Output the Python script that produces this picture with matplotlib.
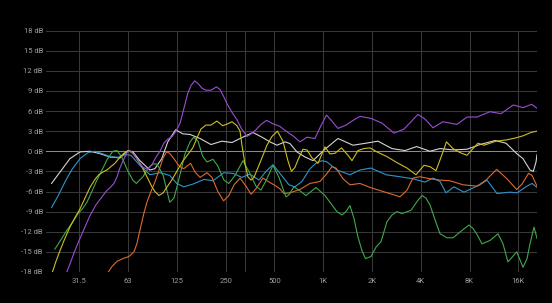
import matplotlib
matplotlib.use("Agg")
import matplotlib.pyplot as plt
from matplotlib.ticker import FixedLocator, NullLocator

# ---- data (frequency in Hz, level in dB) ----
WHITE = [(21.1,-4.8),(23.8,-3.1),(27.4,-1.1),(31.6,-0.1),(36.4,0.0),(41.9,-0.35),(48.3,-0.85),(55.7,-1.0),
         (62.4,0.1),(67.0,-0.1),(74.0,-1.4),(85.3,-2.8),(91.6,-2.6),(101,-1.1),(110,1.4),(123,3.2),(136,2.6),
         (151,2.5),(174,1.9),(203,1.0),(237,1.5),(274,1.3),(307,1.9),(369,2.8),(419,2.1),(470,1.4),(519,0.9),
         (581,1.4),(624,1.15),(689,-0.1),(772,-0.85),(865,-1.4),(1026,0.3),(1234,1.9),(1527,0.9),(1837,1.2),
         (2179,1.5),(2658,0.4),(3197,0.1),(3776,0.7),(4561,0.0),(5258,0.4),(6324,0.2),(7716,0.3),(9282,1.0),
         (11487,1.6),(13432,1.2),(15635,-0.35),(17101,-1.1),(18888,-2.8),(19795,-3.0),(20570,-1.6),(20864,-0.5)]

BLUE = [(21.1,-8.4),(23.1,-6.7),(25.5,-4.6),(28.2,-2.7),(31.6,-1.1),(35.4,-0.2),(39.1,0.0),(43.8,-0.4),
        (48.3,-0.8),(54.2,-0.9),(60.7,-0.5),(65.1,-0.6),(74.0,-2.1),(85.3,-3.5),(98.4,-3.2),(113,-3.6),
        (125,-4.8),(138,-5.3),(157,-4.9),(184,-4.2),(209,-4.4),(244,-3.2),(278,-3.3),(315,-3.9),(353,-3.4),
        (402,-4.3),(444,-3.0),(490,-2.0),(541,-3.3),(615,-5.0),(670,-5.3),(740,-4.5),(829,-2.6),(903,-1.8),
        (983,-1.4),(1056,-1.6),(1217,-2.8),(1463,-3.5),(1687,-2.8),(1972,-2.5),(2441,-3.5),(2978,-3.8),
        (3582,-4.1),(4248,-4.6),(4760,-4.0),(5258,-4.5),(5725,-6.2),(6415,-5.3),(7394,-6.1),(8524,-5.4),
        (9282,-5.0),(10253,-4.3),(11816,-6.3),(14214,-6.1),(15704,-6.2),(18101,-5.2),(19434,-4.8),(20864,-5.4)]

GREEN = [(22.1,-14.6),(24.1,-13.2),(26.2,-11.8),(28.6,-10.5),(30.7,-9.3),(32.9,-8.5),(34.9,-7.6),(37.4,-6.0),
         (40.2,-4.3),(43.2,-2.8),(46.3,-1.3),(50.4,0.0),(53.5,0.1),(57.3,-0.9),(62.5,-3.0),(67.0,-4.3),
         (70.4,-4.8),(77.3,-3.8),(84.1,-2.4),(89.1,-1.9),(94.3,-1.9),(103,-3.6),(109,-6.0),(113,-7.6),
         (120,-7.0),(125,-5.4),(133,-2.8),(140,-0.5),(151,1.4),(159,2.1),(169,1.5),(181,-0.8),(192,-1.6),
         (209,-1.2),(224,-2.2),(244,-4.3),(262,-4.8),(286,-3.6),(320,-1.4),(353,-3.3),(385,-5.2),(413,-5.8),
         (444,-4.4),(490,-2.1),(534,-3.9),(589,-6.8),(615,-6.5),(660,-5.3),(729,-6.0),(783,-6.6),(903,-5.4),
         (1026,-6.6),(1117,-7.8),(1217,-9.0),(1306,-9.5),(1383,-9.0),(1463,-8.1),(1549,-10.0),(1640,-12.8),
         (1735,-14.8),(1824,-16.0),(1972,-15.7),(2118,-14.3),(2273,-13.5),(2476,-10.5),(2658,-9.5),(2854,-9.0),
         (3064,-9.3),(3482,-8.8),(3791,-7.5),(4071,-6.6),(4309,-7.0),(4561,-8.0),(4897,-10.2),(5258,-12.3),
         (5809,-12.9),(6324,-12.9),(7187,-11.8),(7935,-11.0),(8402,-11.5),(8894,-12.4),(9551,-13.8),
         (10700,-13.3),(11986,-12.3),(12870,-13.8),(13810,-16.5),(15635,-15.0),(17101,-17.3),(18101,-16.0),
         (18888,-13.8),(19990,-11.3),(20864,-13.0)]

ORANGE = [(47.0,-18.1),(49.7,-17.2),(53.5,-16.4),(58.2,-16.0),(63.3,-15.7),(68.0,-15.0),(70.9,-13.8),
          (74.0,-11.8),(78.4,-9.2),(81.8,-7.6),(86.6,-6.0),(91.6,-4.6),(98.4,-2.4),(103,-1.0),(108,-0.1),
          (113,-0.3),(120,-1.1),(129,-2.2),(138,-2.6),(152,-1.8),(162,-3.1),(174,-3.9),(192,-3.2),(206,-3.9),
          (224,-6.0),(243,-7.4),(262,-6.6),(282,-5.0),(307,-4.0),(334,-5.2),(359,-6.4),(385,-5.6),(425,-4.0),
          (457,-4.5),(497,-5.0),(541,-5.6),(573,-6.3),(624,-6.2),(719,-5.7),(829,-4.8),(955,-4.5),(1041,-3.5),
          (1133,-2.3),(1200,-2.5),(1325,-4.1),(1463,-5.0),(1687,-4.8),(1947,-5.4),(2339,-6.0),(2658,-6.4),
          (2978,-6.8),(3290,-5.8),(3582,-4.0),(3957,-3.8),(4561,-4.1),(5258,-4.3),(6059,-4.4),(7290,-5.0),
          (8894,-5.2),(10107,-4.3),(11769,-2.7),(13604,-4.1),(15635,-5.7),(16858,-4.9),(18491,-3.3),
          (19434,-3.6),(20864,-5.2)]

YELLOW = [(21.3,-18.1),(22.4,-16.5),(23.8,-14.8),(25.5,-13.0),(27.4,-11.3),(29.4,-9.9),(31.6,-8.6),(33.9,-7.0),
          (36.4,-5.4),(39.1,-4.2),(41.3,-3.5),(43.8,-3.1),(46.3,-2.8),(49.0,-2.3),(51.9,-1.8),(55.7,-0.9),
          (59.0,-0.3),(63.3,0.1),(67.0,-0.3),(70.9,-1.1),(76.2,-2.3),(81.8,-3.8),(87.8,-5.3),(91.6,-6.0),
          (97.0,-6.6),(103,-6.2),(109,-5.3),(117,-4.2),(125,-3.0),(136,-1.5),(146,-0.5),(157,0.5),(166,1.9),
          (176,3.3),(189,3.9),(203,3.9),(221,4.5),(240,3.8),(258,4.1),(274,4.4),(294,3.8),(307,3.0),(315,1.0),
          (329,-1.8),(343,-3.8),(359,-4.3),(374,-3.9),(395,-2.5),(419,-1.0),(450,0.9),(483,2.2),(522,3.0),
          (565,1.5),(606,-1.4),(637,-3.0),(670,-2.4),(699,-1.3),(750,0.3),(795,0.2),(854,-1.0),(929,-1.8),
          (1026,0.65),(1102,-0.4),(1183,-0.3),(1297,0.5),(1423,-0.6),(1506,-1.4),(1640,0.1),(1786,0.4),
          (1947,0.5),(2148,-0.1),(2476,-0.8),(2854,-1.7),(3290,-2.5),(3738,-3.5),(4188,-2.1),(4561,-2.3),
          (4968,-2.9),(5333,-0.9),(5766,1.4),(6324,0.4),(6986,-0.2),(7716,-0.6),(8402,0.4),(9021,1.2),
          (9825,0.9),(11653,1.5),(13604,1.7),(15470,2.0),(17101,2.3),(19158,2.8),(20864,3.0)]

PURPLE = [(26.1,-18.1),(27.4,-16.8),(29.4,-14.8),(31.6,-13.0),(33.9,-11.3),(36.4,-9.6),(39.6,-8.0),(42.6,-7.0),
          (45.7,-6.0),(49.0,-5.3),(51.2,-4.8),(53.5,-3.8),(55.7,-2.5),(58.6,-1.3),(61.6,-0.2),(64.2,0.1),
          (68.0,-0.5),(72.0,-1.4),(77.3,-2.4),(83.0,-2.7),(87.8,-2.0),(92.9,-0.9),(98.4,0.0),(104,1.2),
          (110,1.8),(117,2.2),(123,2.9),(131,4.2),(138,6.3),(146,8.6),(153,9.8),(161,10.5),(169,10.1),
          (179,9.4),(189,9.1),(203,9.1),(220,9.6),(231,9.2),(244,8.1),(255,7.1),(274,5.8),(294,4.7),(313,3.4),
          (339,2.2),(359,2.6),(385,3.2),(413,4.0),(447,4.6),(490,4.1),(541,3.7),(598,2.9),(651,2.3),(719,1.4),
          (795,2.1),(890,1.9),(955,3.5),(1048,5.4),(1133,4.5),(1234,3.4),(1383,3.9),(1527,4.6),(1687,5.2),
          (1972,4.9),(2306,4.2),(2735,2.7),(3152,3.3),(3482,4.4),(3841,5.5),(4248,4.8),(4760,3.5),(5485,4.4),
          (6694,4.0),(7716,5.1),(8894,5.1),(10700,5.9),(12511,5.6),(14902,6.9),(17101,6.5),(19352,7.0),
          (20864,6.4)]

XTICKS = [31.25, 62.5, 125, 250, 500, 1000, 2000, 4000, 8000, 16000]
XTICK_LABELS = ["31.5", "63", "125", "250", "500", "1K", "2K", "4K", "8K", "16K"]
EXTRA_VLINES = [331]
YTICKS = [18, 15, 12, 9, 6, 3, 0, -3, -6, -9, -12, -15, -18]
XLIM = (19.5, 20860)
YLIM = (-18, 18)

SERIES = [
    (WHITE, "#d4d4d4"),
    (BLUE, "#2f95cc"),
    (ORANGE, "#dd6a2c"),
    (GREEN, "#40a94a"),
    (YELLOW, "#cfbd22"),
    (PURPLE, "#9a4ed2"),
]

plt.rcParams["font.family"] = ["Roboto", "DejaVu Sans"]

fig = plt.figure(figsize=(5.52, 3.03), dpi=100, facecolor="black")
ax = fig.add_axes([46/552, 31/303, 491/552, 241.5/303], facecolor="black")

ax.set_xscale("log")
ax.set_xlim(*XLIM)
ax.set_ylim(*YLIM)

grid_c = "#383838"
for y in YTICKS:
    ax.axhline(y, color=("#8a8a8a" if y == 0 else grid_c), lw=0.75, zorder=1)
for x in XTICKS + EXTRA_VLINES:
    ax.axvline(x, color=grid_c, lw=0.75, zorder=1)

for data, col in SERIES:
    xs = [p[0] for p in data]
    ys = [p[1] for p in data]
    ax.plot(xs, ys, color=col, lw=0.8, solid_joinstyle="round", zorder=3)

ax.xaxis.set_major_locator(FixedLocator(XTICKS))
ax.xaxis.set_minor_locator(NullLocator())
ax.set_xticklabels(XTICK_LABELS)
ax.set_yticks(YTICKS)
ax.set_yticklabels([f"{v} dB" for v in YTICKS])

ax.tick_params(axis="both", length=0, labelsize=5.5, labelcolor="#9d9d9d")
ax.tick_params(axis="x", pad=4.3)
ax.tick_params(axis="y", pad=2.2)
for s in ax.spines.values():
    s.set_visible(False)

fig.savefig("out.png", dpi=100, facecolor="black")
